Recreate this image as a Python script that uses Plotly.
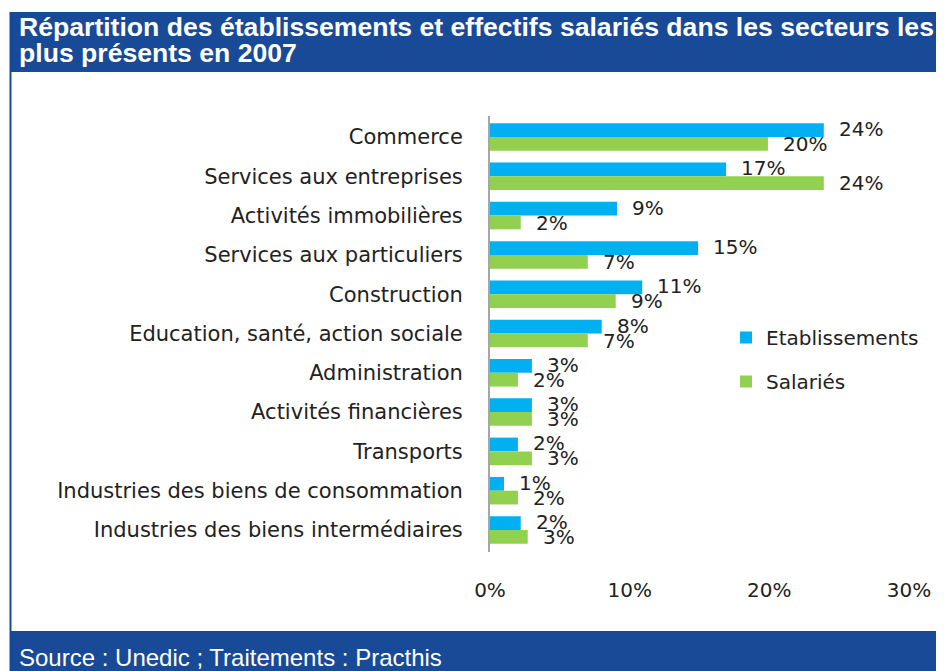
import plotly.graph_objects as go

categories = [
    "Commerce",
    "Services aux entreprises",
    "Activités immobilières",
    "Services aux particuliers",
    "Construction",
    "Education, santé, action sociale",
    "Administration",
    "Activités financières",
    "Transports",
    "Industries des biens de consommation",
    "Industries des biens intermédiaires",
]
etablissements = [23.9, 16.9, 9.1, 14.9, 10.9, 8.0, 3.0, 3.0, 2.0, 1.0, 2.2]
salaries = [19.9, 23.9, 2.2, 7.0, 9.0, 7.0, 2.0, 3.0, 3.0, 2.0, 2.7]
etab_labels = ["24%", "17%", "9%", "15%", "11%", "8%", "3%", "3%", "2%", "1%", "2%"]
sal_labels = ["20%", "24%", "2%", "7%", "9%", "7%", "2%", "3%", "3%", "2%", "3%"]
x_tickvals = [0, 10, 20, 30]
x_ticktext = ["0%", "10%", "20%", "30%"]
title_lines = [
    "Répartition des établissements et effectifs salariés dans les secteurs les",
    "plus présents en 2007",
]
source_text = "Source : Unedic ; Traitements : Practhis"

# the page body adds an 8px margin: work in screenshot pixels, convert to figure pixels
OFF = 8
W_PX, H_PX = 944 - OFF, 671 - OFF
L, R, T, B = 490 - OFF, 944 - 909, 116 - OFF, 671 - 552
PW = W_PX - L - R
PH = H_PX - T - B

def px_x(p):
    return (p - OFF - L) / PW

def px_y(p):
    return (H_PX - B - (p - OFF)) / PH

BLUE = "#00B0F0"
GREEN = "#92D050"
BANNER = "#184A98"
LABEL_FONT = dict(family="DejaVu Sans", size=20, color="#222222")
CAT_FONT = dict(family="DejaVu Sans", size=21, color="#222222")

fig = go.Figure()
fig.add_trace(go.Bar(
    y=categories, x=etablissements, orientation="h", name="Etablissements",
    marker=dict(color=BLUE, line=dict(width=0)), legendgroup="a",
))
fig.add_trace(go.Bar(
    y=categories, x=salaries, orientation="h", name="Salariés",
    marker=dict(color=GREEN, line=dict(width=0)), legendgroup="b",
))

annotations = []
for cat, v, t in zip(categories, etablissements, etab_labels):
    annotations.append(dict(x=v, y=cat, xref="x", yref="y", text=t, showarrow=False,
                            xanchor="left", yanchor="middle", xshift=13, yshift=8,
                            font=LABEL_FONT))
for cat, v, t in zip(categories, salaries, sal_labels):
    annotations.append(dict(x=v, y=cat, xref="x", yref="y", text=t, showarrow=False,
                            xanchor="left", yanchor="middle", xshift=13, yshift=-7,
                            font=LABEL_FONT))

TITLE_FONT = dict(family="Liberation Sans", size=26.6, color="white")
for line, cy in zip(title_lines, [27, 53]):
    annotations.append(dict(
        x=px_x(17), y=px_y(cy), xref="paper", yref="paper", text="<b>" + line + "</b>",
        showarrow=False, xanchor="left", yanchor="middle", font=TITLE_FONT,
    ))
annotations.append(dict(
    x=px_x(17), y=px_y(657), xref="paper", yref="paper",
    text=source_text, showarrow=False, xanchor="left", yanchor="middle",
    font=dict(family="Liberation Sans", size=24, color="white"),
))

shapes = [
    dict(type="rect", xref="paper", yref="paper", x0=px_x(10), x1=px_x(960),
         y0=px_y(72), y1=px_y(12), fillcolor=BANNER, line=dict(width=0), layer="below"),
    dict(type="rect", xref="paper", yref="paper", x0=px_x(10), x1=px_x(960),
         y0=px_y(690), y1=px_y(631), fillcolor=BANNER, line=dict(width=0), layer="below"),
    dict(type="line", xref="paper", yref="paper", x0=px_x(10.5), x1=px_x(10.5),
         y0=px_y(690), y1=px_y(12), line=dict(color=BANNER, width=2)),
]

fig.update_layout(
    width=W_PX, height=H_PX,
    margin=dict(l=L, r=R, t=T, b=B),
    paper_bgcolor="white", plot_bgcolor="white",
    barmode="group", bargap=0.30, bargroupgap=0,
    xaxis=dict(range=[0, 30], tickvals=x_tickvals, ticktext=x_ticktext,
               showgrid=False, zeroline=False, showline=False,
               ticks="", ticklabelstandoff=24, tickfont=LABEL_FONT, fixedrange=True),
    yaxis=dict(autorange="reversed", showgrid=False, zeroline=False,
               showline=True, linecolor="#A6A6A6", linewidth=2,
               ticks="", ticklabelstandoff=21, tickfont=CAT_FONT),
    legend=dict(x=px_x(726), y=px_y(318), xanchor="left", yanchor="top",
                font=LABEL_FONT, tracegroupgap=15, bgcolor="rgba(0,0,0,0)"),
    annotations=annotations,
    shapes=shapes,
    showlegend=True,
)

fig.write_html("out.html")
